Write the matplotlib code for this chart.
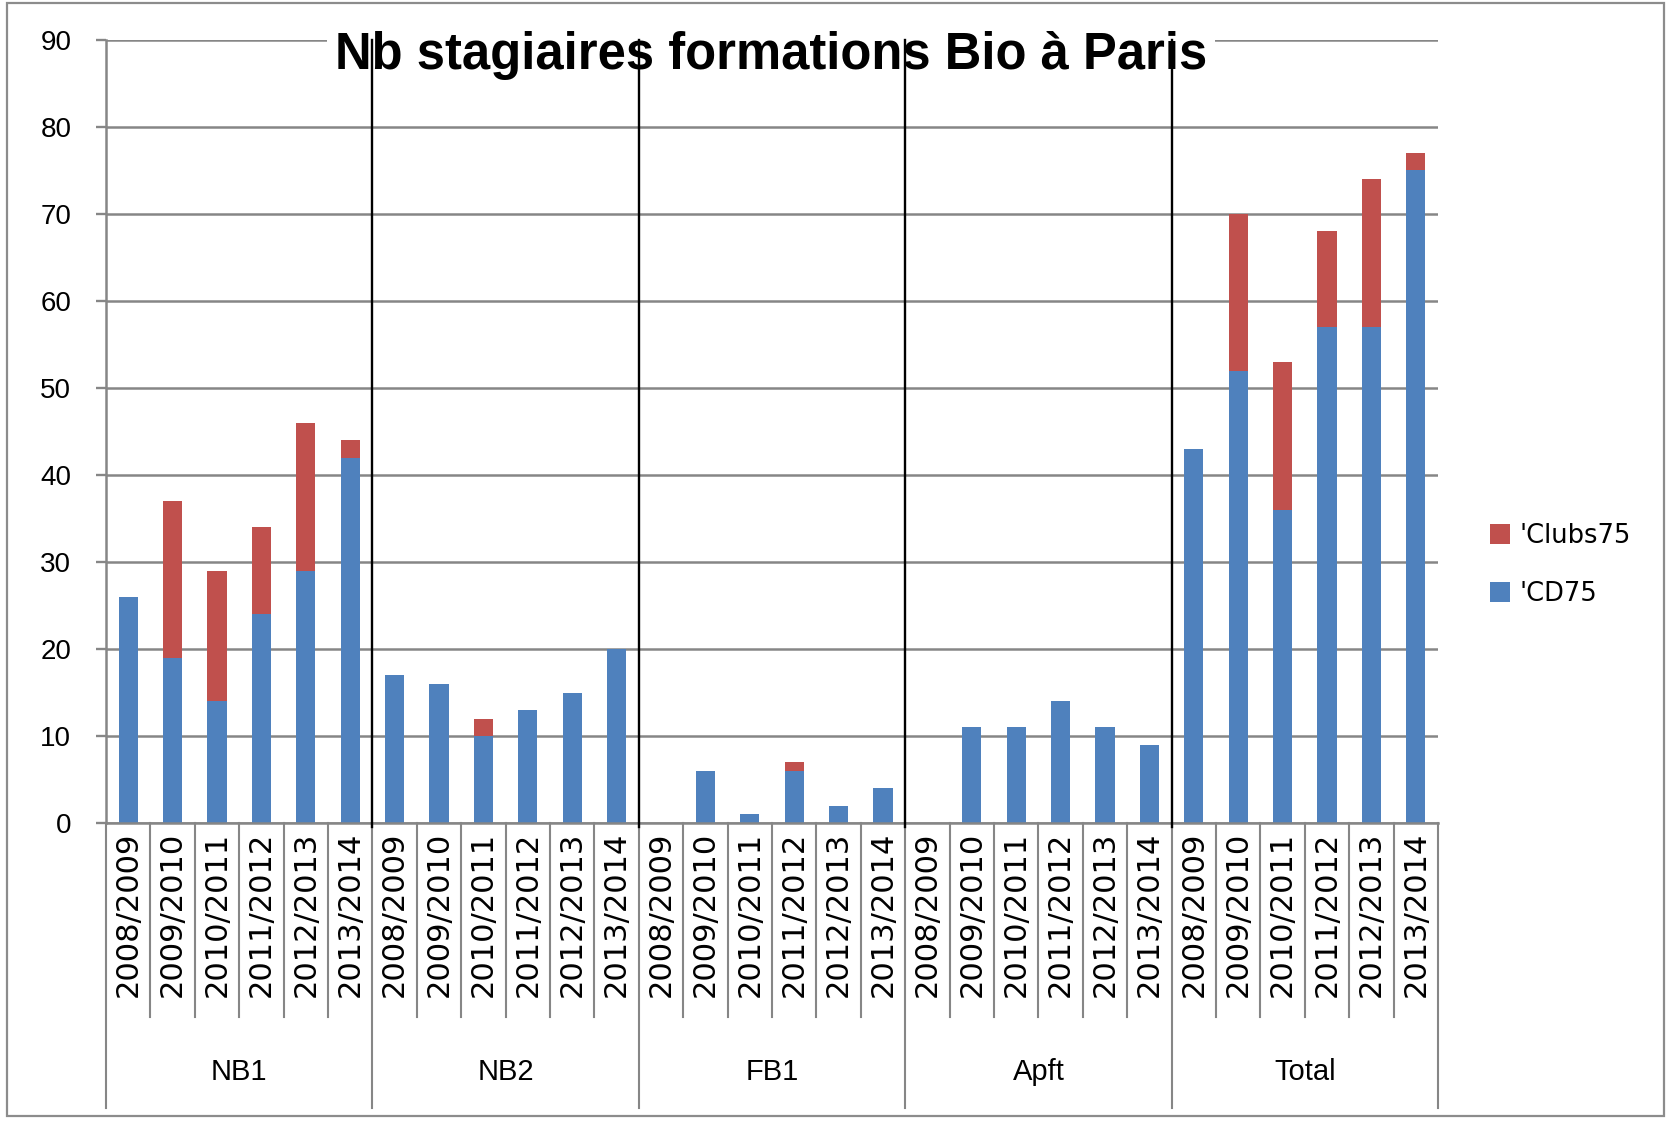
import matplotlib
matplotlib.use("Agg")
import matplotlib.pyplot as plt
import matplotlib.transforms as mtransforms
from matplotlib.patches import Rectangle, Patch
from matplotlib.lines import Line2D
import numpy as np

# ---------------- data ----------------
groups = ["NB1", "NB2", "FB1", "Apft", "Total"]
years = ["2008/2009", "2009/2010", "2010/2011", "2011/2012", "2012/2013", "2013/2014"]
cd75 = {
    "NB1":   [26, 19, 14, 24, 29, 42],
    "NB2":   [17, 16, 10, 13, 15, 20],
    "FB1":   [0, 6, 1, 6, 2, 4],
    "Apft":  [0, 11, 11, 14, 11, 9],
    "Total": [43, 52, 36, 57, 57, 75],
}
clubs75 = {
    "NB1":   [0, 18, 15, 10, 17, 2],
    "NB2":   [0, 0, 2, 0, 0, 0],
    "FB1":   [0, 0, 0, 1, 0, 0],
    "Apft":  [0, 0, 0, 0, 0, 0],
    "Total": [0, 18, 17, 11, 17, 2],
}
series_labels = ["'CD75", "'Clubs75"]
title = "Nb stagiaires formations Bio à Paris"
yticks = [0, 10, 20, 30, 40, 50, 60, 70, 80, 90]

BLUE = "#4F81BD"
RED = "#C0504D"
GRID = "#868686"
SANS = ["Liberation Sans", "DejaVu Sans"]

W, H = 1667, 1121
fig = plt.figure(figsize=(W / 100, H / 100), dpi=100)
left_px, right_px, top_px, bot_px = 106, 1438, 40, 823
ax = fig.add_axes([left_px / W, 1 - bot_px / H,
                   (right_px - left_px) / W, (bot_px - top_px) / H])

blue_vals = [v for g in groups for v in cd75[g]]
red_vals = [v for g in groups for v in clubs75[g]]
n = len(blue_vals)
x = np.arange(n)
bw = 0.43
ax.bar(x, blue_vals, width=bw, color=BLUE, zorder=2, label=series_labels[0])
ax.bar(x, red_vals, width=bw, bottom=blue_vals, color=RED, zorder=2, label=series_labels[1])

ax.set_xlim(-0.5, n - 0.5)
ax.set_ylim(0, 90)
ax.set_yticks(yticks)
ax.set_yticklabels([str(t) for t in yticks], family=SANS, fontsize=20)
ax.tick_params(axis="y", length=7, width=1.7, color=GRID, pad=18)
ax.set_xticks([])
ax.yaxis.grid(True, color=GRID, linewidth=1.8, zorder=0)
ax.set_axisbelow(True)
for s in ["top", "right"]:
    ax.spines[s].set_visible(False)
for s in ["left", "bottom"]:
    ax.spines[s].set_color(GRID)
    ax.spines[s].set_linewidth(1.8)

axh = bot_px - top_px
def ay(px_below):
    return -px_below / axh

trans = mtransforms.blended_transform_factory(ax.transData, ax.transAxes)
ng = len(groups)
ny = len(years)
# category boundary lines below axis
for k in range(n + 1):
    xb = k - 0.5
    long = (k % ny == 0)
    y1 = ay(285) if long else ay(194)
    ax.add_line(Line2D([xb, xb], [0, y1], transform=trans, color=GRID,
                       linewidth=1.5, clip_on=False, zorder=1))
# year labels
for i in range(n):
    ax.text(i, ay(9), years[i % ny], transform=trans, rotation=90,
            ha="center", va="top", fontsize=22, family="DejaVu Sans", color="black")
# group labels
for gi, g in enumerate(groups):
    ax.text(gi * ny + (ny - 1) / 2, ay(249), g, transform=trans,
            ha="center", va="center", fontsize=21, family=SANS, color="black")

# title with white background
fig.text(771 / W, 1 - 69 / H, title, ha="center", va="baseline", fontsize=36.5,
         fontweight="bold", family=SANS, color="black", zorder=5,
         bbox=dict(facecolor="white", edgecolor="none", pad=6))
# black separators between groups (above title)
for gi in range(1, ng):
    xb = gi * ny - 0.5
    fig.add_artist(Line2D([xb, xb], [1, ay(4)], transform=trans, color="black",
                          linewidth=1.7, zorder=7))

# legend
handles = [Patch(facecolor=RED, edgecolor="none", label=series_labels[1]),
           Patch(facecolor=BLUE, edgecolor="none", label=series_labels[0])]
fig.legend(handles=handles, loc="center left",
           bbox_to_anchor=(1490 / W, 1 - 565 / H), frameon=False,
           prop={"family": "DejaVu Sans", "size": 18.5},
           handlelength=0.78, handleheight=0.78, handletextpad=0.35,
           labelspacing=1.25, borderaxespad=0, borderpad=0)

# figure border
fig.add_artist(Rectangle((7 / W, 5 / H), (1664 - 7) / W, (1118 - 5) / H,
                         transform=fig.transFigure, fill=False,
                         edgecolor="#8c8c8c", linewidth=1.6))

fig.savefig("out.png", dpi=100)
